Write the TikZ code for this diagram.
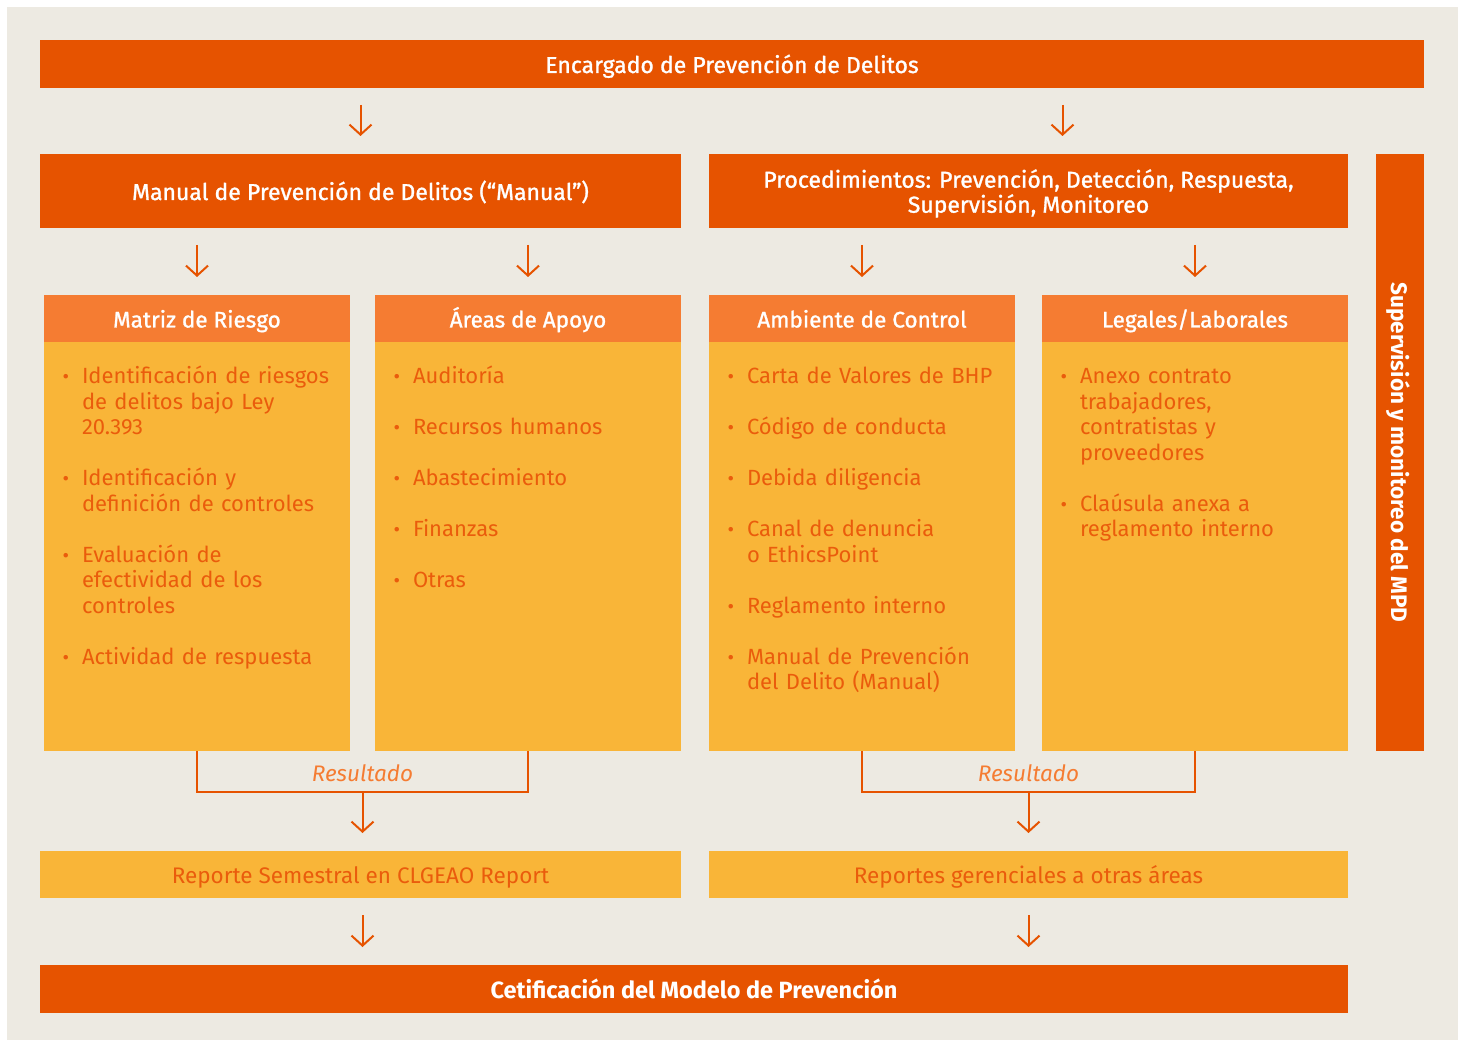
\documentclass[tikz,border=0pt]{standalone}
\usepackage{fontspec}
\setmainfont{Fira Sans}
\newfontfamily\medfont{Fira Sans}[FakeBold=1.2]
\usetikzlibrary{arrows.meta,calc}
\definecolor{mpdDark}{RGB}{230,83,0}
\definecolor{mpdMid}{RGB}{245,124,50}
\definecolor{mpdYellow}{RGB}{249,181,56}
\definecolor{mpdBg}{RGB}{237,234,226}
\definecolor{mpdText}{RGB}{234,92,12}
\newcommand{\bull}{\noindent\llap{\raisebox{0pt}{\fontsize{20}{20}\selectfont\textbullet}\hspace{13pt}}\rule{0pt}{18pt}}
\newcommand{\gap}{\par\vspace{25.5pt}}
\newcommand{\pillar}[4]{\node[head] (#1) at (#2,295) {#3};
        \node[body] (#1b) at (#2,342) {};
        \node[items] (#1t) at (#2+38,366) {#4};}
\tikzset{
    box/.style={anchor=north west, inner sep=0pt, outer sep=0pt},
    oneline/.style={text height=20pt, text depth=2pt},
    bar/.style={box, fill=mpdDark, text=white, align=center, font=\medfont\fontsize{23}{25}\selectfont},
    head/.style={box, oneline, fill=mpdMid, text=white, minimum width=306pt, minimum height=47pt, font=\medfont\fontsize{22.5}{25}\selectfont},
    body/.style={box, fill=mpdYellow, minimum width=306pt, minimum height=409pt},
    items/.style={box, text width=280pt, align=left, text=mpdText, font=\fontsize{22}{25.5}\selectfont},
    report/.style={box, oneline, fill=mpdYellow, text=mpdText, minimum height=47pt, font=\fontsize{22.5}{25}\selectfont},
    arr/.style={draw=mpdDark, line width=2pt, -{Straight Barb[length=10pt,width=22pt]}, shorten <=17pt, shorten >=18pt},
    link/.style={draw=mpdDark, line width=2pt},
    result/.style={text=mpdMid, font=\itshape\fontsize{22.5}{25}\selectfont}
}
\begin{document}
\begin{tikzpicture}[x=1pt, y=-1pt]
    \useasboundingbox (0,0) rectangle (1460,1040);
    \fill[white] (0,0) rectangle (1460,1040);
    \fill[mpdBg] (7,7) rectangle (1458,1040);
    % top level
    \node[bar, oneline, minimum width=1384pt, minimum height=48pt] (enc) at (40,40) {Encargado de Prevención de Delitos};
    \node[bar, oneline, minimum width=641pt, minimum height=74pt] (man) at (40,154) {Manual de Prevención de Delitos (“Manual”)};
    \node[bar, text depth=0pt, minimum width=639pt, minimum height=74pt] (proc) at (709,154) {Procedimientos: Prevención, Detección, Respuesta,\\ Supervisión, Monitoreo};
    \node[bar, oneline, anchor=center, rotate=-90, minimum width=597pt, minimum height=48pt, font=\bfseries\fontsize{22.5}{25}\selectfont] (sup) at (1400,452.5) {Supervisión y monitoreo del MPD};
    \coordinate (pa) at ([xshift=34pt]proc.north);
    \draw[arr] (enc.south -| man.north) -- (man.north);
    \draw[arr] (enc.south -| pa) -- (pa);
    % columns
    \pillar{mat}{44}{Matriz de Riesgo}{\bull Identificación de riesgos\\ de delitos bajo Ley\\ 20.393\gap
        \bull Identificación y\\ definición de controles\gap
        \bull Evaluación de\\ efectividad de los\\ controles\gap
        \bull Actividad de respuesta}
    \pillar{apo}{375}{Áreas de Apoyo}{\bull Auditoría\gap
        \bull Recursos humanos\gap
        \bull Abastecimiento\gap
        \bull Finanzas\gap
        \bull Otras}
    \pillar{amb}{709}{Ambiente de Control}{\bull Carta de Valores de BHP\gap
        \bull Código de conducta\gap
        \bull Debida diligencia\gap
        \bull Canal de denuncia\\ o EthicsPoint\gap
        \bull Reglamento interno\gap
        \bull Manual de Prevención\\ del Delito (Manual)}
    \pillar{leg}{1042}{Legales/Laborales}{\bull Anexo contrato\\ trabajadores,\\ contratistas y\\ proveedores\gap
        \bull Claúsula anexa a\\ reglamento interno}
    \draw[arr] (man.south -| mat.north) -- (mat.north);
    \draw[arr] (man.south -| apo.north) -- (apo.north);
    \draw[arr] (proc.south -| amb.north) -- (amb.north);
    \draw[arr] (proc.south -| leg.north) -- (leg.north);
    % results
    \coordinate (ml) at ([yshift=-41pt]matb.south);
    \coordinate (mr) at ([yshift=-41pt]apob.south);
    \coordinate (al) at ([yshift=-41pt]ambb.south);
    \coordinate (ar) at ([yshift=-41pt]legb.south);
    \coordinate (mm) at ($(ml)!0.5!(mr)$);
    \coordinate (am) at ($(al)!0.5!(ar)$);
    \draw[link] (matb.south) -- (ml) -- (mr) -- (apob.south);
    \draw[link] (ambb.south) -- (al) -- (ar) -- (legb.south);
    \node[result] (resm) at ([yshift=19pt]mm) {Resultado};
    \node[result] (resa) at ([yshift=19pt]am) {Resultado};
    % reports
    \node[report, minimum width=641pt] (repm) at (40,851) {Reporte Semestral en CLGEAO Report};
    \node[report, minimum width=639pt] (repa) at (709,851) {Reportes gerenciales a otras áreas};
    \draw[arr, shorten <=0pt] (mm) -- (mm |- repm.north);
    \draw[arr, shorten <=0pt] (am) -- (am |- repa.north);
    % certification
    \node[bar, oneline, minimum width=1308pt, minimum height=48pt, font=\bfseries\fontsize{23.5}{25}\selectfont] (cert) at (40,965) {Cetificación del Modelo de Prevención};
    \draw[arr] (mm |- repm.south) -- (mm |- cert.north);
    \draw[arr] (am |- repa.south) -- (am |- cert.north);
\end{tikzpicture}
\end{document}
